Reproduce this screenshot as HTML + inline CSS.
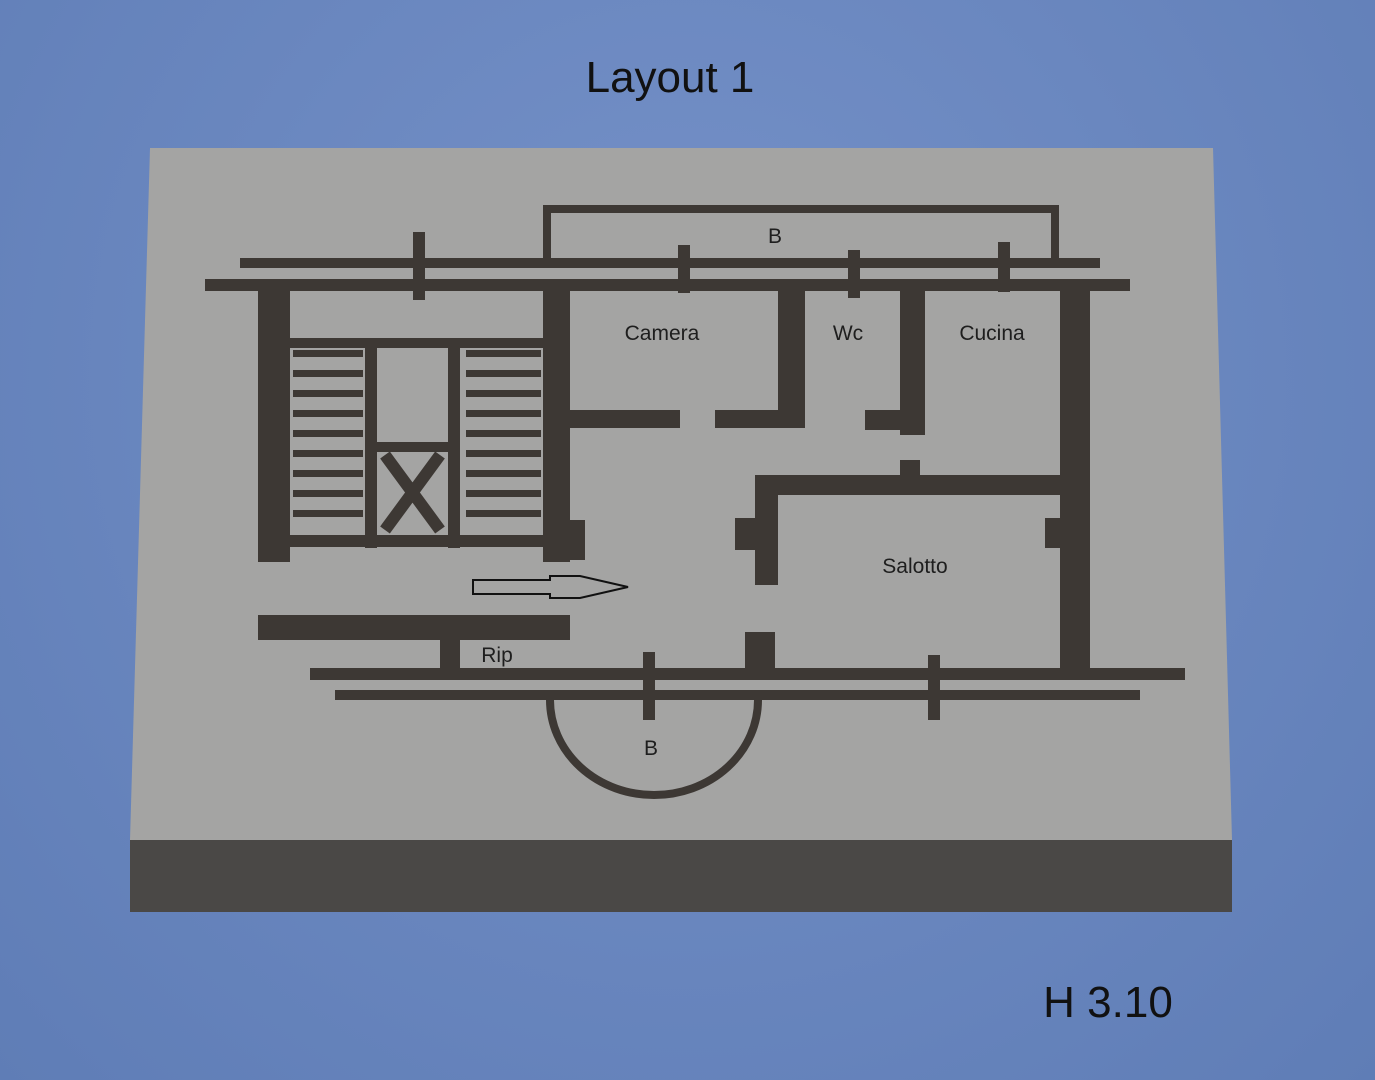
<!DOCTYPE html>
<html><head><meta charset="utf-8"><style>
html,body{margin:0;padding:0;width:1375px;height:1080px;overflow:hidden}
body{background:radial-gradient(ellipse at 50% 35%,#7591c8 0%,#6a87bf 50%,#5f7db6 100%)}
svg{position:absolute;left:0;top:0}
</style></head><body>
<svg width="1375" height="1080" viewBox="0 0 1375 1080" font-family="'Liberation Sans',sans-serif">
<polygon points="150,148 1213,148 1232,840 130,840" fill="#a4a4a3"/>
<rect x="130" y="840" width="1102" height="72" fill="#4a4846"/>
<g fill="#3d3834">
<!-- top walls -->
<rect x="240" y="258" width="860" height="10"/>
<rect x="205" y="279" width="925" height="12"/>
<rect x="413" y="232" width="12" height="68"/>
<rect x="678" y="245" width="12" height="48"/>
<rect x="848" y="250" width="12" height="48"/>
<rect x="998" y="242" width="12" height="50"/>
<!-- left block -->
<rect x="258" y="280" width="32" height="282"/>
<rect x="543" y="280" width="27" height="282"/>
<rect x="290" y="338" width="253" height="10"/>
<rect x="290" y="535" width="253" height="12"/>
<rect x="365" y="338" width="12" height="210"/>
<rect x="448" y="338" width="12" height="210"/>
<rect x="377" y="442" width="71" height="10"/>
<rect x="565" y="520" width="20" height="40"/>
<!-- camera / wc / cucina -->
<rect x="570" y="410" width="110" height="18"/>
<rect x="715" y="410" width="90" height="18"/>
<rect x="778" y="290" width="27" height="138"/>
<rect x="865" y="410" width="60" height="20"/>
<rect x="900" y="290" width="25" height="145"/>
<rect x="1060" y="290" width="30" height="385"/>
<!-- salotto -->
<rect x="755" y="475" width="305" height="20"/>
<rect x="900" y="460" width="20" height="35"/>
<rect x="755" y="475" width="23" height="110"/>
<rect x="735" y="518" width="20" height="32"/>
<rect x="1045" y="518" width="18" height="30"/>
<rect x="745" y="632" width="30" height="48"/>
<!-- rip -->
<rect x="258" y="615" width="312" height="25"/>
<rect x="440" y="640" width="20" height="40"/>
<!-- bottom walls -->
<rect x="310" y="668" width="875" height="12"/>
<rect x="335" y="690" width="805" height="10"/>
<rect x="643" y="652" width="12" height="68"/>
<rect x="928" y="655" width="12" height="65"/>
</g>
<g fill="#3d3834">
<rect x="293" y="350" width="70" height="7"/><rect x="293" y="370" width="70" height="7"/><rect x="293" y="390" width="70" height="7"/><rect x="293" y="410" width="70" height="7"/><rect x="293" y="430" width="70" height="7"/><rect x="293" y="450" width="70" height="7"/><rect x="293" y="470" width="70" height="7"/><rect x="293" y="490" width="70" height="7"/><rect x="293" y="510" width="70" height="7"/>
<rect x="466" y="350" width="75" height="7"/><rect x="466" y="370" width="75" height="7"/><rect x="466" y="390" width="75" height="7"/><rect x="466" y="410" width="75" height="7"/><rect x="466" y="430" width="75" height="7"/><rect x="466" y="450" width="75" height="7"/><rect x="466" y="470" width="75" height="7"/><rect x="466" y="490" width="75" height="7"/><rect x="466" y="510" width="75" height="7"/>
</g>
<path d="M385 455 L440 530 M440 455 L385 530" stroke="#3d3834" stroke-width="12"/>
<rect x="547" y="209" width="508" height="55" fill="none" stroke="#3d3834" stroke-width="8"/>
<path d="M550 700 A104 95 0 0 0 758 700" fill="none" stroke="#3d3834" stroke-width="8"/>
<path d="M473 580 L550 580 L550 576 L580 576 L628 587 L580 598 L550 598 L550 594 L473 594 Z" fill="#a4a4a3" stroke="#111" stroke-width="2"/>
<g fill="#1e1e1e" font-size="21" text-anchor="middle">
<text x="775" y="243">B</text>
<text x="662" y="340">Camera</text>
<text x="848" y="340">Wc</text>
<text x="992" y="340">Cucina</text>
<text x="915" y="573">Salotto</text>
<text x="497" y="662">Rip</text>
<text x="651" y="755">B</text>
</g>
<text x="670" y="92" font-size="44" text-anchor="middle" fill="#111">Layout 1</text>
<text x="1108" y="1017" font-size="44" text-anchor="middle" fill="#111">H 3.10</text>
</svg>
</body></html>
